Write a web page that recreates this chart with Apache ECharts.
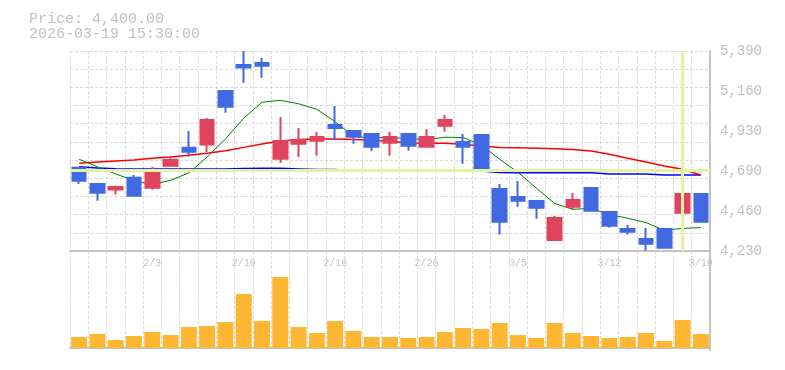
<!DOCTYPE html>
<html>
<head>
<meta charset="utf-8">
<script src="https://cdn.jsdelivr.net/npm/echarts@6/dist/echarts.min.js"></script>
<style>
html,body{margin:0;padding:0;background:#fff;}
#c{width:785px;height:370px;}
</style>
</head>
<body>
<div id="c"></div>
<script>
// ---- data ----
var dates = ['1/28','1/29','1/30','2/2','2/3','2/4','2/5','2/6','2/9','2/10','2/12','2/13','2/16','2/17','2/18','2/19','2/20','2/24','2/25','2/26','2/27','3/2','3/3','3/4','3/5','3/6','3/9','3/10','3/11','3/12','3/13','3/16','3/17','3/18','3/19'];
var openP  = [4713,4619,4586,4655,4597,4725,4829,4847,5158,5309,5320,4765,4852,4870,4961,4926,4909,4858,4909,4835,4957,4862,4903,4590,4543,4520,4294,4487,4595,4456,4358,4300,4358,4452,4561];
var closeP = [4638,4568,4601,4551,4700,4758,4806,4990,5067,5295,5305,4868,4874,4891,4943,4893,4835,4891,4841,4891,4990,4835,4707,4400,4522,4481,4421,4526,4464,4377,4342,4272,4249,4561,4400];
var lowP   = [4619,4522,4557,4551,4586,4725,4777,4804,5032,5206,5235,4742,4775,4783,4874,4852,4810,4783,4812,4835,4922,4736,4688,4325,4487,4417,4288,4468,4464,4365,4325,4232,4249,4452,4400];
var highP  = [4713,4625,4609,4671,4717,4781,4926,5001,5158,5390,5351,5007,4943,4920,5071,4926,4909,4920,4909,4938,5019,4909,4903,4619,4636,4520,4433,4566,4601,4456,4381,4363,4358,4729,4561];
var maShort = [4762,4719,4677,4638,4615,4640,4683,4775,4880,5000,5093,5104,5084,5052,4980,4895,4886,4889,4881,4875,4890,4888,4845,4762,4686,4595,4506,4472,4477,4442,4420,4395,4350,4361,4366];
var maMid   = [4739,4746,4752,4758,4768,4775,4785,4797,4812,4831,4851,4868,4876,4880,4880,4876,4872,4866,4856,4855,4855,4849,4839,4831,4829,4826,4823,4818,4810,4791,4768,4746,4723,4704,4671];
var maLong  = [4719,4711,4707,4706,4706,4706,4706,4706,4706,4708,4710,4710,4706,4702,4702,4694,4694,4694,4694,4694,4698,4698,4694,4686,4684,4684,4684,4684,4684,4677,4677,4677,4671,4671,4671];
var volume  = [110,140,80,120,160,130,210,220,260,540,270,710,210,150,270,170,110,110,100,110,160,200,190,250,130,100,250,150,120,100,110,150,70,280,140];
var priceTickLabels = ['4,230','4,460','4,690','4,930','5,160','5,390'];
var priceMin = 4230, priceMax = 5390;
var crossDate = '3/18', crossPrice = 4700;
var titleLine1 = 'Price: 4,400.00';
var titleLine2 = '2026-03-19 15:30:00';

var ohlc = dates.map(function(d,i){ return [openP[i], closeP[i], lowP[i], highP[i]]; });

var FONT = '"Liberation Mono", "DejaVu Sans Mono", monospace';
var gridDash = {color:'#d9d9d9', width:1, type:[3,2]};
var borderLine = {show:true, lineStyle:{color:'#c4c4c4', width:2}};

var chart = echarts.init(document.getElementById('c'), null, {renderer:'canvas'});
chart.setOption({
  animation:false,
  backgroundColor:'#ffffff',
  graphic:[
    {type:'text', left:29, top:12, style:{text:titleLine1, font:'15px ' + FONT, fill:'#c0c0c0'}},
    {type:'text', left:29, top:27, style:{text:titleLine2, font:'15px ' + FONT, fill:'#c0c0c0'}}
  ],
  grid:[
    {left:70, top:51, width:640, height:200},
    {left:70, top:251, width:640, height:99}
  ],
  xAxis:[
    {type:'category', gridIndex:0, data:dates, boundaryGap:true,
     axisLine:borderLine, axisTick:{show:false},
     axisLabel:{show:true, color:'#c4c4c4', fontFamily:FONT, fontSize:10, margin:7,
       interval:function(i){ return i % 5 === 4; }},
     splitLine:{show:true, interval:0, lineStyle:gridDash}},
    {type:'category', gridIndex:1, data:dates, boundaryGap:true,
     axisLine:borderLine, axisTick:{show:false}, axisLabel:{show:false},
     splitLine:{show:true, interval:0, lineStyle:gridDash}}
  ],
  yAxis:[
    {type:'value', gridIndex:0, min:priceMin, max:priceMax, show:false, scale:true},
    {type:'value', gridIndex:0, position:'right', min:0, max:priceTickLabels.length-1, interval:1,
     axisLine:borderLine, axisTick:{show:false}, splitLine:{show:false},
     axisLabel:{color:'#c0c0c0', fontFamily:FONT, fontSize:14, margin:10, verticalAlign:'middle', padding:[4,0,0,0],
       formatter:function(v){ return priceTickLabels[Math.round(v)] || ''; }}},
    {type:'value', gridIndex:0, position:'left', min:0, max:11, interval:1,
     axisLine:{show:false}, axisTick:{show:false}, axisLabel:{show:false},
     splitLine:{show:true, lineStyle:gridDash}},
    {type:'value', gridIndex:1, position:'right', min:-20, max:970,
     axisLine:borderLine, axisTick:{show:false}, axisLabel:{show:false}, splitLine:{show:false}}
  ],
  series:[
    {type:'line', xAxisIndex:0, yAxisIndex:0, data:[], z:1, silent:true,
     markLine:{silent:true, symbol:'none', animation:false, label:{show:false},
       lineStyle:{color:'#e4f2a4', width:3, type:'solid'},
       data:[{xAxis:crossDate},{yAxis:crossPrice}]}},
    {type:'line', name:'long', xAxisIndex:0, yAxisIndex:0, data:maLong, z:2, symbol:'none',
     lineStyle:{color:'#0000ff', width:1.5}},
    {type:'line', name:'mid', xAxisIndex:0, yAxisIndex:0, data:maMid, z:2, symbol:'none',
     lineStyle:{color:'#ff0000', width:1.5}},
    {type:'line', name:'short', xAxisIndex:0, yAxisIndex:0, data:maShort, z:2, symbol:'none',
     lineStyle:{color:'#008000', width:1}},
    {type:'candlestick', xAxisIndex:0, yAxisIndex:0, data:ohlc, z:3, barWidth:14,
     itemStyle:{color:'#e0435e', color0:'#4169e1', borderColor:'#e0435e', borderColor0:'#4169e1', borderWidth:2}},
    {type:'bar', xAxisIndex:1, yAxisIndex:3, data:volume, barWidth:16,
     itemStyle:{color:'#fdb733'}}
  ]
});
</script>
</body>
</html>
